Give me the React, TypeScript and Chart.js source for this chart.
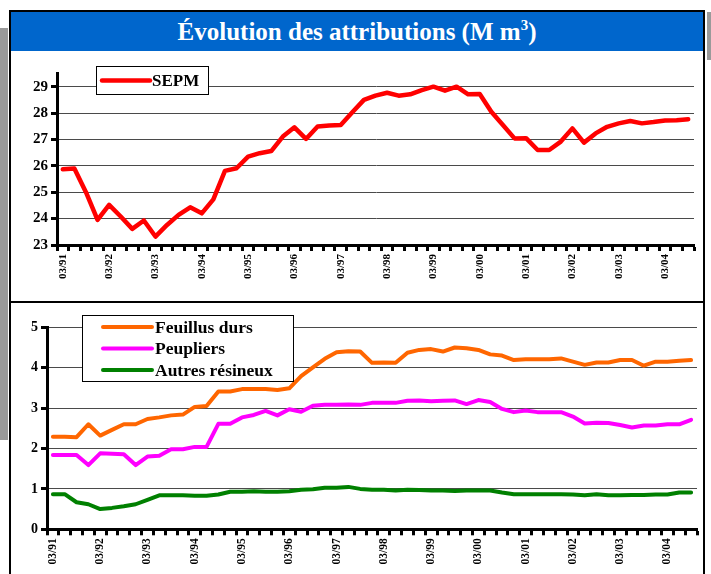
import React, { useEffect, useRef } from 'react';
import { Chart, registerables } from 'chart.js';

Chart.register(...registerables);

const quarterLabels = [
  '03/91', '06/91', '09/91', '12/91', '03/92', '06/92', '09/92', '12/92',
  '03/93', '06/93', '09/93', '12/93', '03/94', '06/94', '09/94', '12/94',
  '03/95', '06/95', '09/95', '12/95', '03/96', '06/96', '09/96', '12/96',
  '03/97', '06/97', '09/97', '12/97', '03/98', '06/98', '09/98', '12/98',
  '03/99', '06/99', '09/99', '12/99', '03/00', '06/00', '09/00', '12/00',
  '03/01', '06/01', '09/01', '12/01', '03/02', '06/02', '09/02', '12/02',
  '03/03', '06/03', '09/03', '12/03', '03/04', '06/04', '09/04',
];

const sepm = [
  25.87, 25.9, 25.0, 23.95, 24.52, 24.08, 23.61, 23.93, 23.32, 23.76,
  24.14, 24.43, 24.2, 24.73, 25.81, 25.91, 26.35, 26.48, 26.56, 27.11,
  27.46, 27.02, 27.49, 27.53, 27.55, 28.03, 28.5, 28.66, 28.77, 28.66,
  28.71, 28.87, 29.0, 28.85, 29.0, 28.71, 28.72, 28.05, 27.55, 27.04,
  27.05, 26.6, 26.6, 26.92, 27.42, 26.88, 27.23, 27.48, 27.61, 27.7,
  27.61, 27.66, 27.72, 27.73, 27.77,
];

const feuillusDurs = [
  2.29, 2.29, 2.28, 2.6, 2.32, 2.46, 2.6, 2.6, 2.73, 2.77,
  2.82, 2.84, 3.03, 3.05, 3.41, 3.41, 3.47, 3.47, 3.47, 3.45,
  3.49, 3.79, 4.01, 4.22, 4.38, 4.41, 4.4, 4.12, 4.13, 4.12,
  4.37, 4.44, 4.46, 4.4, 4.5, 4.48, 4.44, 4.33, 4.3, 4.19,
  4.21, 4.21, 4.21, 4.23, 4.15, 4.07, 4.13, 4.13, 4.19, 4.19,
  4.05, 4.15, 4.15, 4.17, 4.19,
];

const peupliers = [
  1.84, 1.84, 1.84, 1.59, 1.88, 1.87, 1.86, 1.59, 1.8, 1.82,
  1.98, 1.98, 2.04, 2.04, 2.61, 2.61, 2.77, 2.83, 2.93, 2.82,
  2.97, 2.91, 3.06, 3.08, 3.08, 3.09, 3.08, 3.13, 3.13, 3.13,
  3.18, 3.19, 3.17, 3.18, 3.19, 3.1, 3.2, 3.15, 2.98, 2.9,
  2.94, 2.9, 2.9, 2.9, 2.79, 2.62, 2.64, 2.63, 2.58, 2.52,
  2.57, 2.57, 2.6, 2.6, 2.71,
];

const autresResineux = [
  0.87, 0.87, 0.67, 0.62, 0.5, 0.53, 0.57, 0.62, 0.73, 0.84,
  0.84, 0.84, 0.83, 0.83, 0.86, 0.93, 0.93, 0.94, 0.93, 0.93,
  0.94, 0.98, 0.99, 1.03, 1.03, 1.05, 1.0, 0.98, 0.98, 0.96,
  0.98, 0.97, 0.96, 0.96, 0.95, 0.96, 0.96, 0.96, 0.91, 0.87,
  0.87, 0.87, 0.87, 0.87, 0.86, 0.84, 0.87, 0.84, 0.84, 0.85,
  0.85, 0.86, 0.86, 0.91, 0.91,
];

const SERIF = "'Liberation Serif', 'Times New Roman', serif";

const boxLegend = {
  id: 'boxLegend',
  afterDraw(chart: any, _args: any, opts: any) {
    if (!opts || !opts.enabled) return;
    const ctx = chart.ctx;
    ctx.save();
    ctx.fillStyle = '#ffffff';
    ctx.fillRect(opts.x, opts.y, opts.w, opts.h);
    ctx.strokeStyle = '#000000';
    ctx.lineWidth = 1;
    ctx.strokeRect(opts.x + 0.5, opts.y + 0.5, opts.w, opts.h);
    chart.data.datasets.forEach((ds: any, i: number) => {
      const cy = opts.y + opts.firstRow + i * opts.rowH;
      ctx.strokeStyle = ds.borderColor;
      ctx.lineWidth = ds.borderWidth;
      ctx.lineCap = 'round';
      ctx.beginPath();
      ctx.moveTo(opts.x + opts.lineX0, cy);
      ctx.lineTo(opts.x + opts.lineX1, cy);
      ctx.stroke();
      ctx.fillStyle = '#000000';
      ctx.font = `bold ${opts.fontSize}px ${SERIF}`;
      ctx.textBaseline = 'middle';
      ctx.textAlign = 'left';
      ctx.fillText(ds.label, opts.x + opts.textX, cy + 1);
    });
    ctx.restore();
  },
};

function makeOptions(p: any) {
  return {
    responsive: false,
    animation: false as const,
    layout: { padding: { left: 0, right: p.padRight, top: p.padTop, bottom: 0 } },
    plugins: {
      legend: { display: false },
      title: { display: false },
      tooltip: { enabled: false },
      boxLegend: p.legend,
    },
    elements: {
      point: { radius: 0 },
      line: { tension: 0, borderJoinStyle: 'round', borderCapStyle: 'round' },
    },
    scales: {
      x: {
        type: 'category',
        offset: true,
        grid: {
          display: true,
          drawOnChartArea: false,
          drawTicks: true,
          tickLength: 6,
          tickWidth: 3,
          tickColor: '#000',
          offset: true,
        },
        border: { display: true, color: '#000', width: 3 },
        ticks: {
          autoSkip: false,
          maxRotation: 90,
          minRotation: 90,
          padding: 3,
          color: '#000',
          font: { family: SERIF, weight: 'bold', size: p.xFont },
          callback: (_v: any, i: number) => (i % 4 === 0 ? quarterLabels[i] : ''),
        },
        afterFit: (s: any) => {
          s.height = p.xHeight;
          s.paddingLeft = 0;
          s.paddingRight = 0;
        },
      },
      y: {
        type: 'linear',
        min: p.yMin,
        max: p.yMax,
        bounds: 'data',
        grid: {
          color: '#4a4a4a',
          lineWidth: 1,
          drawTicks: true,
          tickLength: 6,
          tickWidth: 3,
          tickColor: '#000',
        },
        border: { display: true, color: '#000', width: 3 },
        ticks: {
          stepSize: 1,
          includeBounds: false,
          padding: 3,
          color: '#000',
          font: { family: SERIF, weight: 'bold', size: p.yFont },
        },
        afterFit: (s: any) => {
          s.width = p.yWidth;
          s.paddingTop = 0;
          s.paddingBottom = 0;
        },
      },
    },
  };
}

export default function App() {
  const topRef = useRef<HTMLCanvasElement>(null);
  const botRef = useRef<HTMLCanvasElement>(null);

  useEffect(() => {
    const top = new Chart(topRef.current as HTMLCanvasElement, {
      type: 'line',
      data: {
        labels: quarterLabels,
        datasets: [
          { label: 'SEPM', data: sepm, borderColor: '#ff0000', borderWidth: 4.5, fill: false },
        ],
      },
      options: makeOptions({
        padRight: 10, padTop: 22.5, xHeight: 57, yWidth: 47, yMin: 23, yMax: 29.5,
        xFont: 11, yFont: 15,
        legend: {
          enabled: true, x: 86, y: 15, w: 112, h: 28, firstRow: 14.5, rowH: 0,
          lineX0: 6, lineX1: 54, textX: 56, fontSize: 17,
        },
      }) as any,
      plugins: [boxLegend],
    });
    const bot = new Chart(botRef.current as HTMLCanvasElement, {
      type: 'line',
      data: {
        labels: quarterLabels,
        datasets: [
          { label: 'Feuillus durs', data: feuillusDurs, borderColor: '#ff6600', borderWidth: 4, fill: false },
          { label: 'Peupliers', data: peupliers, borderColor: '#ff00ff', borderWidth: 4, fill: false },
          { label: 'Autres résineux', data: autresResineux, borderColor: '#008000', borderWidth: 4, fill: false },
        ],
      },
      options: makeOptions({
        padRight: 7, padTop: 24.3, xHeight: 44.7, yWidth: 37, yMin: 0, yMax: 5,
        xFont: 11.5, yFont: 14,
        legend: {
          enabled: true, x: 72, y: 12, w: 211, h: 66, firstRow: 12, rowH: 21.5,
          lineX0: 21, lineX1: 70, textX: 73, fontSize: 17.5,
        },
      }) as any,
      plugins: [boxLegend],
    });
    return () => {
      top.destroy();
      bot.destroy();
    };
  }, []);

  const abs = (s: React.CSSProperties): React.CSSProperties => ({ position: 'absolute', ...s });

  return (
    <div style={{ position: 'fixed', left: 0, top: 0, width: 711, height: 574, background: '#fff', overflow: 'hidden' }}>
      <div style={abs({ left: 0, top: 28, width: 8, height: 412, background: '#9a9a9a' })} />
      <div style={abs({ left: 707, top: 12, width: 4, height: 48, background: '#9a9a9a' })} />
      <div style={abs({ left: 9, top: 10, width: 696, height: 600, border: '2px solid #000', boxSizing: 'border-box' })} />
      <div
        style={abs({
          left: 11, top: 12, width: 692, height: 39, background: '#0066cc', color: '#fff',
          fontFamily: SERIF, fontWeight: 'bold', fontSize: 25, lineHeight: '40px', textAlign: 'center', whiteSpace: 'nowrap',
        })}
      >
        Évolution des attributions (M m<sup style={{ fontSize: 15, verticalAlign: 'top', lineHeight: '26px' }}>3</sup>)
      </div>
      <div style={abs({ left: 11, top: 301, width: 692, height: 2, background: '#000' })} />
      <canvas ref={topRef} width={694} height={251} style={abs({ left: 10, top: 51, width: 694, height: 251 })} />
      <canvas ref={botRef} width={694} height={271} style={abs({ left: 10, top: 303, width: 694, height: 271 })} />
    </div>
  );
}
